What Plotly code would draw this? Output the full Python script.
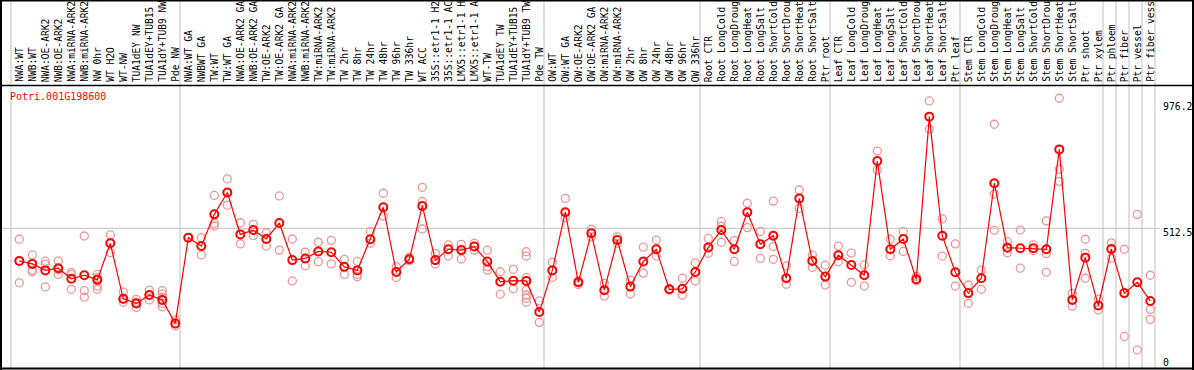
import plotly.graph_objects as go

gene = "Potri.001G198600"

samples = [
    "NWA:WT", "NWB:WT", "NWA:OE-ARK2", "NWB:OE-ARK2", "NWA:miRNA-ARK2", "NWB:miRNA-ARK2",
    "NW 0hr", "WT H2O", "WT-NW", "TUA1dEY NW", "TUA1dEY+TUB15", "TUA1dY+TUB9 NW", "Pde NW",
    "NWA:WT GA", "NWBWT GA", "TW:WT", "TW:WT GA", "NWA:OE-ARK2 GA", "NWB:OE-ARK2 GA",
    "TW:OE-ARK2", "TW:OE-ARK2 GA", "NWA:miRNA-ARK2", "NWB:miRNA-ARK2", "TW:miRNA-ARK2",
    "TW:miRNA-ARK2", "TW 2hr", "TW 8hr", "TW 24hr", "TW 48hr", "TW 96hr", "TW 336hr", "WT ACC",
    "35S::etr1-1 H2", "35S::etr1-1 AC", "LMX5::etr1-1 H", "LMX5::etr1-1 A", "WT-TW",
    "TUA1dEY TW", "TUA1dEY+TUB15", "TUA1dY+TUB9 TW", "Pde TW",
    "OW:WT", "OW:WT GA", "OW:OE-ARK2", "OW:OE-ARK2 GA", "OW:miRNA-ARK2", "OW:miRNA-ARK2",
    "OW 2hr", "OW 8hr", "OW 24hr", "OW 48hr", "OW 96hr", "OW 336hr",
    "Root CTR", "Root LongCold", "Root LongDroug", "Root LongHeat", "Root LongSalt",
    "Root ShortCold", "Root ShortDrou", "Root ShortHeat", "Root ShortSalt", "Ptr root",
    "Leaf CTR", "Leaf LongCold", "Leaf LongDroug", "Leaf LongHeat", "Leaf LongSalt",
    "Leaf ShortCold", "Leaf ShortDrou", "Leaf ShortHeat", "Leaf ShortSalt", "Ptr leaf",
    "Stem CTR", "Stem LongCold", "Stem LongDroug", "Stem LongHeat", "Stem LongSalt",
    "Stem ShortCold", "Stem ShortDrou", "Stem ShortHeat", "Stem ShortSalt", "Ptr shoot",
    "Ptr xylem", "Ptr phloem", "Ptr fiber", "Ptr vessel", "Ptr fiber vess",
]

means = [
    392, 381, 357, 365, 326, 339, 322, 457, 252, 235, 266, 248, 161,
    478, 447, 564, 645, 490, 506, 473, 532, 395, 401, 427, 424, 370, 357, 472, 590, 351,
    398, 595, 395, 435, 432, 445, 390, 315, 319, 318, 203,
    357, 572, 313, 494, 284, 469, 297, 390, 435, 287, 289, 351,
    442, 506, 435, 572, 454, 485, 328, 623, 392, 334,
    413, 377, 339, 761, 435, 473, 324, 925, 485, 350,
    273, 328, 679, 441, 439, 439, 435, 804, 248, 404, 227,
    436, 273, 313, 244,
]

replicates = [
    [472, 392, 311], [414, 358, 352], [391, 380, 296], [392, 342, 360], [350, 342, 287],
    [484, 282, 258], [342, 330, 299, 287], [488, 422, 460], [277, 239, 250], [250, 220, 240],
    [284, 248, 266], [282, 270, 258, 235, 223], [174, 152, 160],
    [478, 478], [478, 414, 447], [634, 531, 521], [695, 598, 645], [533, 455], [527, 486, 506],
    [496, 447], [632, 432], [473, 318], [424, 374], [461, 389], [468, 381], [398, 342],
    [390, 342, 334], [500, 457], [642, 558], [371, 331], [405, 392], [664, 611, 510],
    [420, 381], [451, 410], [453, 399], [457, 432], [432, 371, 358], [352, 269], [361, 289],
    [426, 410, 330, 284, 266, 254, 239], [244, 165],
    [387, 331], [623, 552], [318, 305], [509, 480], [309, 262], [481, 457], [321, 270],
    [443, 347], [469, 410], [290, 284], [328, 266], [385, 318],
    [475, 420], [537, 461, 520], [467, 390], [605, 515], [501, 401], [613, 445, 398],
    [374, 306], [654, 586], [414, 368], [376, 303],
    [447, 389], [421, 313], [377, 299], [798, 728], [472, 411], [500, 427], [335, 318],
    [983, 879], [547, 410], [455, 299],
    [303, 235], [358, 287], [897, 639, 505], [463, 422], [506, 365], [451, 430],
    [540, 419, 350], [993, 731, 686], [272, 225], [472, 420, 328], [251, 211],
    [459, 402], [435, 113], [564, 63], [339, 213, 176],
]

group_ends = [-1, 12, 40, 52, 62, 72, 83, 84, 85, 86, 87]
y_ticks = [0, 512.5, 976.2]

W, H = 1194, 370
PX0, PXK = 19.3, 13.0          # pixel of first sample, pixels per sample
PY0, PYV = 367.0, 3.695        # pixel of value 0, value per pixel


def px2x(px):
    return (px - PX0) / PXK


def py2y(py):
    return (PY0 - py) * PYV


xs = list(range(len(samples)))
rx, ry = [], []
for i, reps in enumerate(replicates):
    for v in reps:
        rx.append(i)
        ry.append(v)

fig = go.Figure()
fig.add_trace(go.Scatter(
    x=rx, y=ry, mode="markers",
    marker=dict(symbol="circle-open", size=8, color="rgb(236,150,150)", line=dict(width=1.3)),
    hoverinfo="y", showlegend=False,
))
fig.add_trace(go.Scatter(
    x=xs, y=means, mode="lines+markers",
    line=dict(color="red", width=1.2),
    marker=dict(symbol="circle-open", size=8, color="red", line=dict(width=2)),
    text=samples, showlegend=False,
))

shapes = []
grey = "rgb(192,192,192)"
for k in group_ends:
    xk = k + 4.7 / PXK
    shapes.append(dict(type="line", xref="x", yref="paper", x0=xk, x1=xk, y0=2 / H, y1=1,
                       line=dict(color=grey, width=1), layer="below"))
# horizontal grid at 512.5
shapes.append(dict(type="line", xref="paper", yref="y", x0=0, x1=1160 / W, y0=512.5, y1=512.5,
                   line=dict(color=grey, width=1), layer="below"))
black = "black"
# borders
shapes.append(dict(type="line", xref="paper", yref="paper", x0=1 / W, x1=1 / W, y0=0, y1=1,
                   line=dict(color=black, width=2)))
shapes.append(dict(type="line", xref="paper", yref="paper", x0=1193 / W, x1=1193 / W, y0=0, y1=1,
                   line=dict(color=black, width=2)))
shapes.append(dict(type="line", xref="paper", yref="paper", x0=0, x1=1, y0=1 - 0.5 / H, y1=1 - 0.5 / H,
                   line=dict(color=black, width=2)))
shapes.append(dict(type="line", xref="paper", yref="paper", x0=0, x1=1, y0=1 - 85.5 / H, y1=1 - 85.5 / H,
                   line=dict(color=black, width=1.5)))
shapes.append(dict(type="line", xref="paper", yref="paper", x0=0, x1=1, y0=1.5 / H, y1=1.5 / H,
                   line=dict(color=black, width=2)))

mono = "DejaVu Sans Mono"
annotations = []
for i, s in enumerate(samples):
    annotations.append(dict(x=i, xref="x", y=1 - 84 / H, yref="paper", text=s, textangle=-90,
                            xanchor="center", yanchor="bottom", showarrow=False,
                            font=dict(family=mono, size=9.6, color="black")))
tick_py = {0: 362, 512.5: 232.5, 976.2: 107}
for t in y_ticks:
    lab = "0" if t == 0 else f"{t:.1f}"
    annotations.append(dict(x=1161 / W, xref="paper", y=1 - tick_py[t] / H, yref="paper", text=lab,
                            xanchor="left", yanchor="middle", showarrow=False,
                            font=dict(family=mono, size=9.8, color="black")))
annotations.append(dict(x=8 / W, xref="paper", y=1 - 96.5 / H, yref="paper", text=gene,
                        xanchor="left", yanchor="middle", showarrow=False,
                        font=dict(family=mono, size=10, color="red")))

fig.update_layout(
    width=W, height=H,
    margin=dict(l=0, r=0, t=0, b=0),
    paper_bgcolor="white", plot_bgcolor="white",
    xaxis=dict(range=[px2x(0), px2x(W)], visible=False, fixedrange=True),
    yaxis=dict(range=[py2y(H), py2y(0)], visible=False, fixedrange=True),
    shapes=shapes, annotations=annotations,
)

fig.write_html(
    "out.html",
    config={"displayModeBar": False},
    post_script="document.body.style.margin='0px';document.body.style.overflow='hidden';",
)
